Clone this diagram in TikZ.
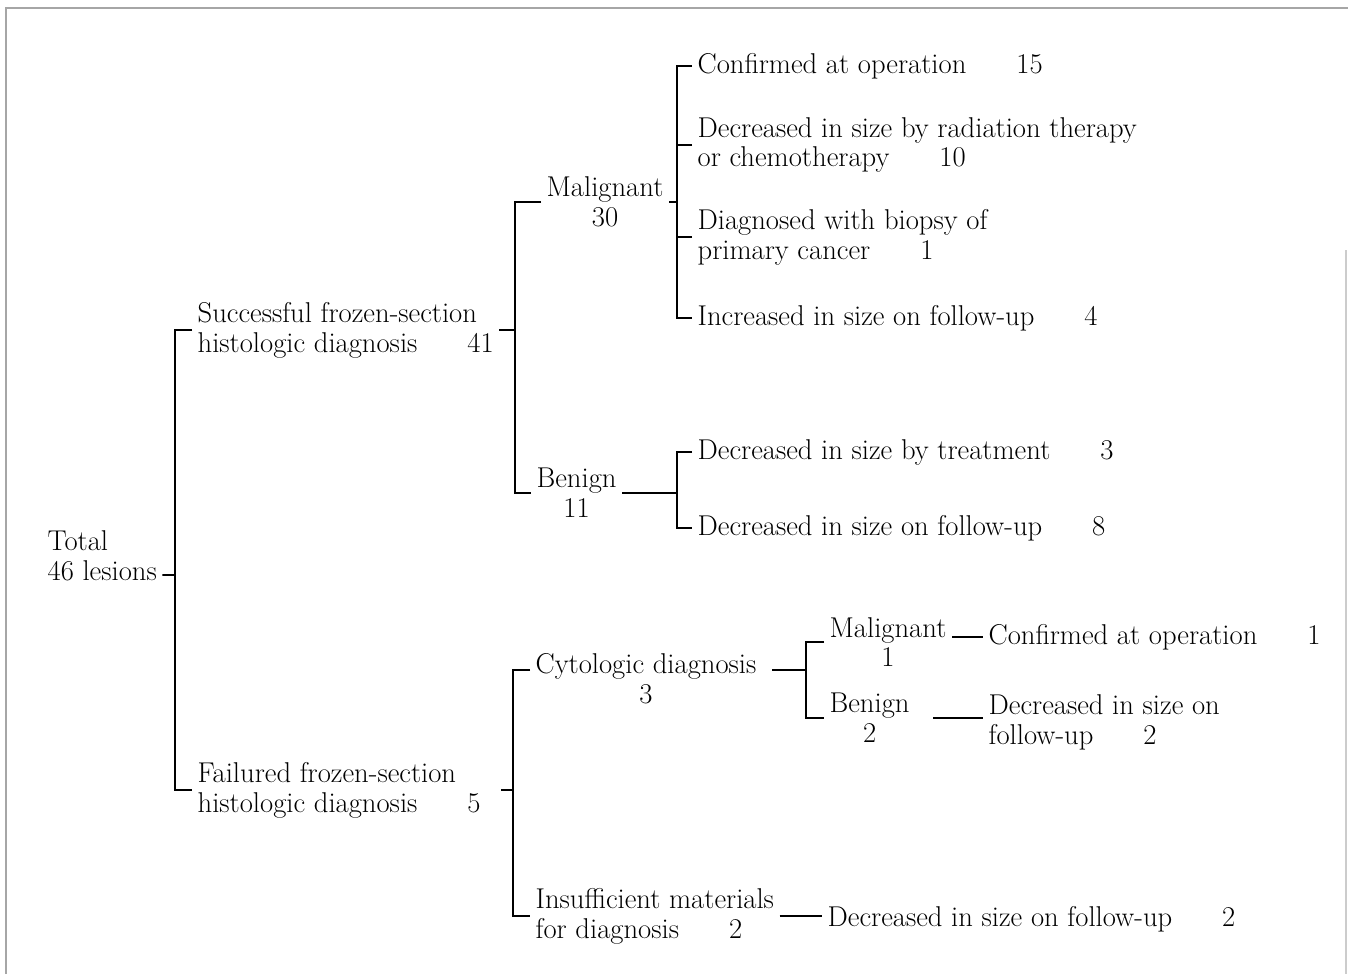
\documentclass[tikz,border=0pt]{standalone}
\usepackage{fontspec}
\usepackage{tikz}
\usetikzlibrary{positioning, calc}
\tikzset{
  lbl/.style={inner xsep=3pt, inner ysep=1pt, anchor=west, align=left},
  cbl/.style={lbl, align=center},
  brk/.style={line width=1.1pt},
  frame/.style={gray!70, line width=0.8pt},
}

\begin{document}
\begin{tikzpicture}[x=0.02cm, y=-0.02cm, font=\fontsize{16.3}{17}\selectfont]
  \useasboundingbox (0,0) rectangle (1348,974);
  % scanned page edges
  \draw[frame] (6,974) -- (6,8) -- (1348,8);
  \draw[frame, gray!40] (1346,250) -- (1346,974);

  % left half
  \node[lbl] (total) at (42,556) {Total\\46 lesions};
  \node[lbl] (succ) at (192,330) {Successful frozen-section\\histologic diagnosis\hspace{1cm}41};
  \node[lbl] (fail) at (192,790) {Failured frozen-section\\histologic diagnosis\hspace{1cm}5};

  % successful branch
  \node[cbl] (mal) at (541,202) {Malignant\\30};
  \node[cbl] (ben) at (531,493) {Benign\\11};
  \node[lbl] (conf) at (692,66) {Confirmed at operation\hspace{1cm}15};
  \node[lbl] (radi) at (692,145) {Decreased in size by radiation therapy\\or chemotherapy\hspace{1cm}10};
  \node[lbl] (biop) at (692,237) {Diagnosed with biopsy of\\primary cancer\hspace{1cm}1};
  \node[lbl] (incr) at (692,318) {Increased in size on follow-up\hspace{1cm}4};
  \node[lbl] (btreat) at (692,452) {Decreased in size by treatment\hspace{1cm}3};
  \node[lbl] (bfollow) at (692,528) {Decreased in size on follow-up\hspace{1cm}8};

  % failed branch
  \node[cbl] (cyto) at (530,679) {Cytologic diagnosis\\3};
  \node[lbl] (insuf) at (530,916) {Insufficient materials\\for diagnosis\hspace{1cm}2};
  \node[cbl] (cmal) at (824,642) {Malignant\\1};
  \node[cbl] (cben) at (824,718) {Benign\\2};
  \node[lbl] (cconf) at (983,637) {Confirmed at operation\hspace{1cm}1};
  \node[lbl] (cdec) at (983,722) {Decreased in size on\\follow-up\hspace{1cm}2};
  \node[lbl] (ifol) at (822,919) {Decreased in size on follow-up\hspace{1cm}2};

  % junctions
  \coordinate (j0) at (175,575);
  \coordinate (j1) at (515,330);
  \coordinate (j2) at (677,202);
  \coordinate (j3) at (677,493);
  \coordinate (j4) at (513,790);
  \coordinate (j5) at (806,670);

  \draw[brk] ([yshift=-0.38cm]total.east) -- (j0);
  \draw[brk] (succ.west) -- (succ.west -| j0) -- (fail.west -| j0) -- (fail.west);

  \draw[brk] (succ.east) -- (j1);
  \draw[brk] (mal.west) -- (mal.west -| j1) -- (ben.west -| j1) -- (ben.west);

  \draw[brk] (mal.east) -- (j2);
  \draw[brk] (conf.west) -- (conf.west -| j2) -- (incr.west -| j2) -- (incr.west);
  \draw[brk] (radi.west) -- (radi.west -| j2);
  \draw[brk] (biop.west) -- (biop.west -| j2);

  \draw[brk] (ben.east) -- (j3);
  \draw[brk] (btreat.west) -- (btreat.west -| j3) -- (bfollow.west -| j3) -- (bfollow.west);

  \draw[brk] ([xshift=0.3cm]fail.east) -- (j4);
  \draw[brk] ([yshift=0.18cm]cyto.west) -- ([yshift=0.18cm]cyto.west -| j4) -- (insuf.west -| j4) -- (insuf.west);

  \draw[brk] ([yshift=0.18cm, xshift=0.2cm]cyto.east) -- (j5);
  \draw[brk] (cmal.west) -- (cmal.west -| j5) -- (cben.west -| j5) -- (cben.west);

  \draw[brk] (cconf.west -| cmal.east) -- (cconf.west);
  \draw[brk] ([xshift=0.36cm]cben.east) -- (cben.east -| cdec.west);
  \draw[brk] (insuf.east) -- (insuf.east -| ifol.west);
\end{tikzpicture}
\end{document}
